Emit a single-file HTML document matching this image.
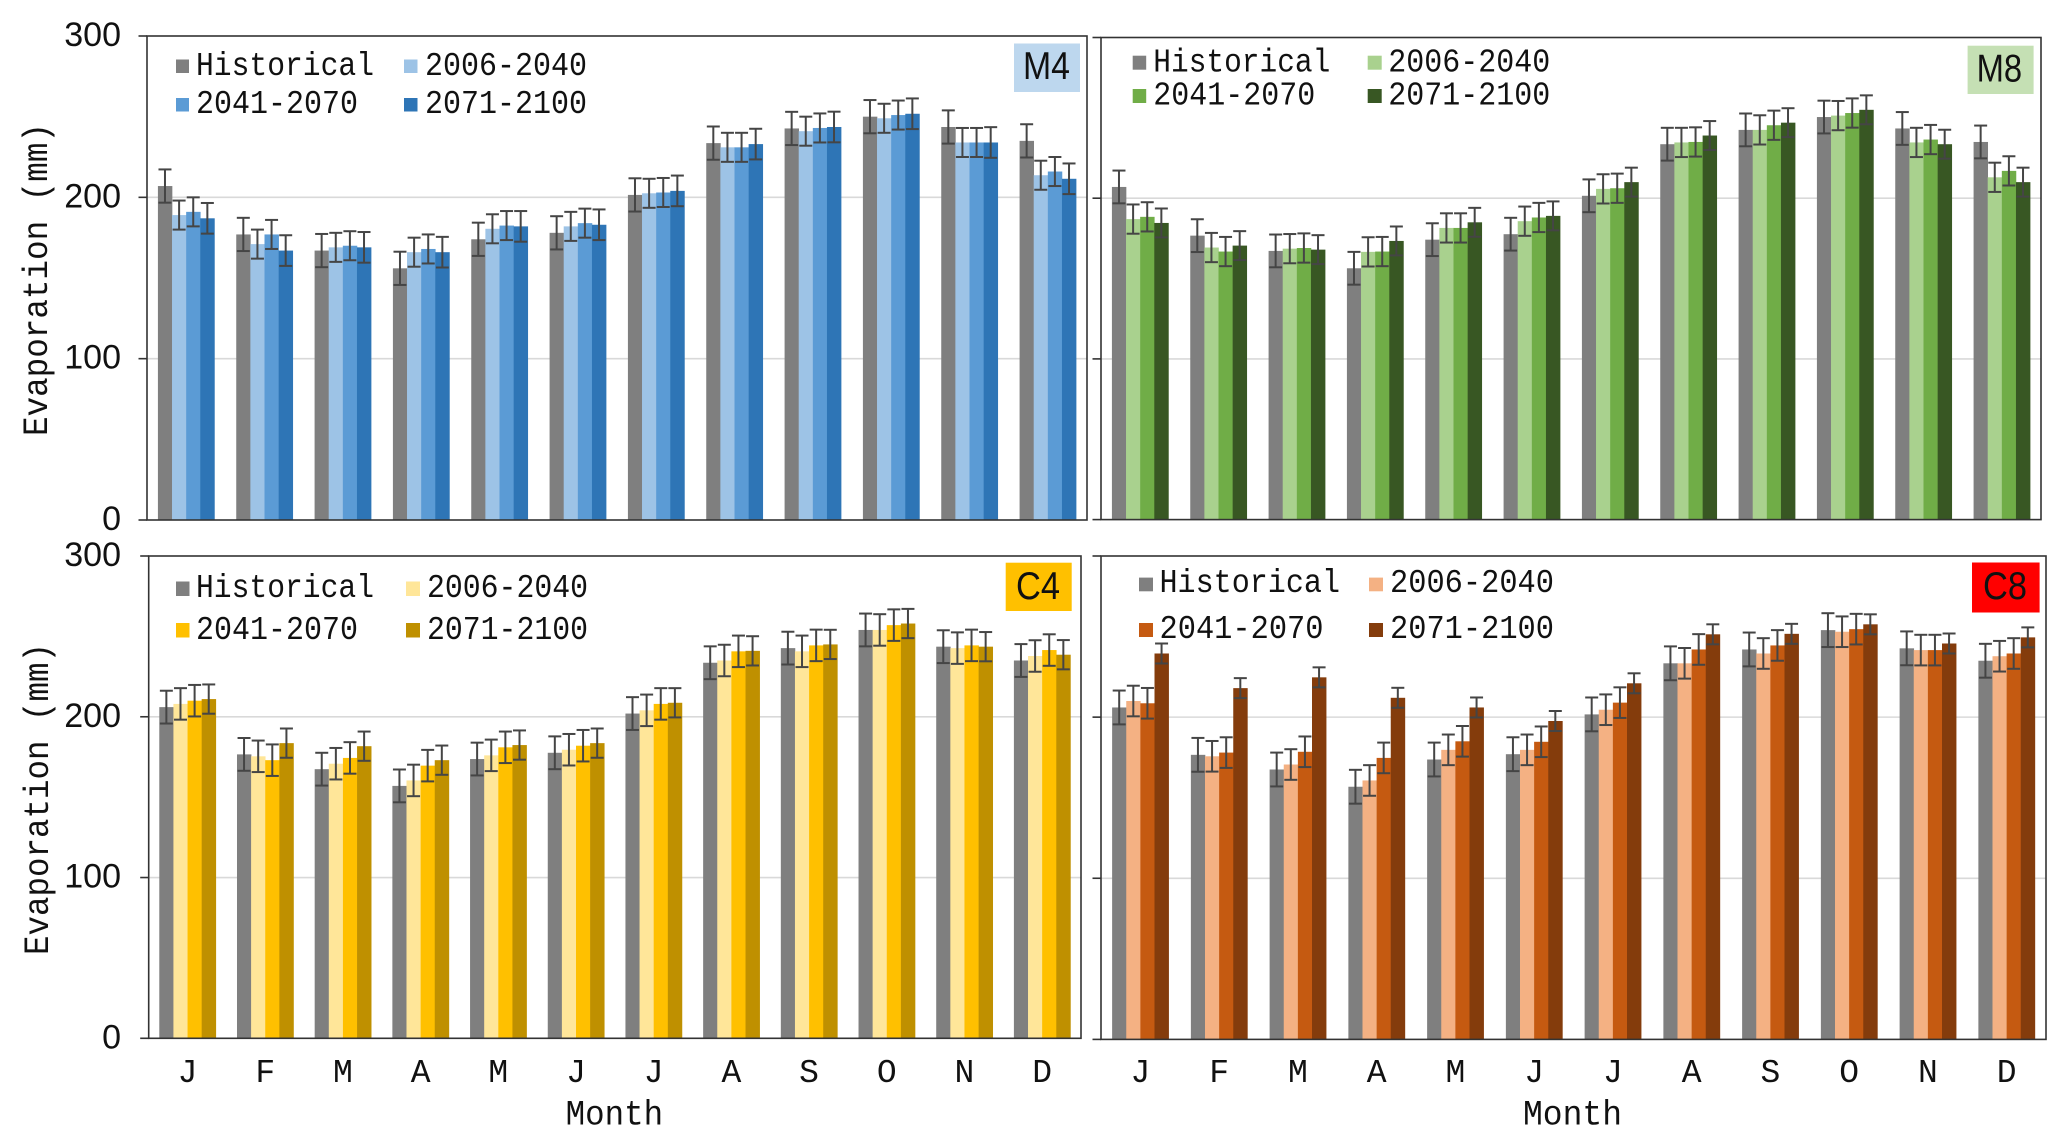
<!DOCTYPE html>
<html lang="en">
<head>
<meta charset="utf-8">
<title>Monthly evaporation by period and scenario</title>
<style>
  html, body { margin: 0; padding: 0; background: #ffffff; }
  body { width: 2067px; height: 1148px; overflow: hidden; }
  svg { display: block; }
  .mono { font-family: "Liberation Mono", monospace; fill: #111111; }
  .sans { font-family: "Liberation Sans", sans-serif; fill: #111111; }
</style>
</head>
<body>
<svg id="figure" xmlns="http://www.w3.org/2000/svg" width="2067" height="1148" viewBox="0 0 2067 1148">
  <rect x="0" y="0" width="2067" height="1148" fill="#ffffff"/>
  <g id="chart-layer"></g>

  <!-- M4 panel annotations -->
  <g>
    <text class="mono" transform="translate(47 279.5) rotate(-90)" text-anchor="middle" font-size="35" textLength="313" lengthAdjust="spacingAndGlyphs">Evaporation (mm)</text>
    <rect x="1014" y="43.5" width="66" height="48.5" fill="#bdd7ee"/>
    <text class="sans" x="1023" y="79" font-size="39" textLength="47" lengthAdjust="spacingAndGlyphs">M4</text>
    <g>
      <rect x="176" y="59.5" width="13" height="13.5" fill="#7f7f7f"/>
      <text class="mono" x="196" y="75" font-size="33" textLength="178" lengthAdjust="spacingAndGlyphs">Historical</text>
      <rect x="404" y="59.5" width="13.5" height="13.5" fill="#9dc3e6"/>
      <text class="mono" x="425" y="75" font-size="33" textLength="162" lengthAdjust="spacingAndGlyphs">2006-2040</text>
      <rect x="176" y="98" width="13" height="13.5" fill="#5b9bd5"/>
      <text class="mono" x="196" y="113" font-size="33" textLength="162" lengthAdjust="spacingAndGlyphs">2041-2070</text>
      <rect x="404" y="98" width="13.5" height="13.5" fill="#2e75b6"/>
      <text class="mono" x="425" y="113" font-size="33" textLength="162" lengthAdjust="spacingAndGlyphs">2071-2100</text>
    </g>
  </g>

  <!-- M8 panel annotations -->
  <g>
    <rect x="1967.6" y="45.7" width="66" height="48.3" fill="#c5e0b4"/>
    <text class="sans" x="1976.6" y="81.4" font-size="39" textLength="45.5" lengthAdjust="spacingAndGlyphs">M8</text>
    <g>
      <rect x="1132.7" y="55.7" width="13.5" height="14" fill="#7f7f7f"/>
      <text class="mono" x="1153.3" y="71.3" font-size="33" textLength="177" lengthAdjust="spacingAndGlyphs">Historical</text>
      <rect x="1367.7" y="55.7" width="14" height="14" fill="#a9d18e"/>
      <text class="mono" x="1388.3" y="71.3" font-size="33" textLength="162" lengthAdjust="spacingAndGlyphs">2006-2040</text>
      <rect x="1132.7" y="89" width="13.5" height="14" fill="#70ad47"/>
      <text class="mono" x="1153.3" y="104.7" font-size="33" textLength="162" lengthAdjust="spacingAndGlyphs">2041-2070</text>
      <rect x="1367.7" y="89" width="14" height="14" fill="#385723"/>
      <text class="mono" x="1388.3" y="104.7" font-size="33" textLength="162" lengthAdjust="spacingAndGlyphs">2071-2100</text>
    </g>
  </g>

  <!-- C4 panel annotations -->
  <g>
    <text class="mono" transform="translate(47.8 799) rotate(-90)" text-anchor="middle" font-size="35" textLength="312" lengthAdjust="spacingAndGlyphs">Evaporation (mm)</text>
    <text class="mono" x="565.6" y="1124.7" font-size="35" textLength="97.5" lengthAdjust="spacingAndGlyphs">Month</text>
    <rect x="1005.7" y="562.7" width="66" height="48.3" fill="#ffc000"/>
    <text class="sans" x="1016" y="599" font-size="39" textLength="44" lengthAdjust="spacingAndGlyphs">C4</text>
    <g>
      <rect x="176" y="581.5" width="13.5" height="14.5" fill="#7f7f7f"/>
      <text class="mono" x="196" y="597" font-size="33" textLength="178" lengthAdjust="spacingAndGlyphs">Historical</text>
      <rect x="406" y="581.5" width="14" height="14.5" fill="#ffe699"/>
      <text class="mono" x="427" y="597" font-size="33" textLength="161" lengthAdjust="spacingAndGlyphs">2006-2040</text>
      <rect x="176" y="623" width="13.5" height="14.5" fill="#ffc000"/>
      <text class="mono" x="196" y="639" font-size="33" textLength="162" lengthAdjust="spacingAndGlyphs">2041-2070</text>
      <rect x="406" y="623" width="14" height="14.5" fill="#bf9000"/>
      <text class="mono" x="427" y="639" font-size="33" textLength="161" lengthAdjust="spacingAndGlyphs">2071-2100</text>
    </g>
  </g>

  <!-- C8 panel annotations -->
  <g>
    <text class="mono" x="1523" y="1124.7" font-size="35" textLength="99" lengthAdjust="spacingAndGlyphs">Month</text>
    <rect x="1972" y="562.5" width="67.6" height="50" fill="#ff0000"/>
    <text class="sans" x="1983" y="599" font-size="39" textLength="44" lengthAdjust="spacingAndGlyphs">C8</text>
    <g>
      <rect x="1139" y="577.6" width="14" height="13.7" fill="#7f7f7f"/>
      <text class="mono" x="1159.5" y="592" font-size="33" textLength="180.5" lengthAdjust="spacingAndGlyphs">Historical</text>
      <rect x="1369" y="577.6" width="14" height="13.7" fill="#f4b183"/>
      <text class="mono" x="1390" y="592" font-size="33" textLength="164" lengthAdjust="spacingAndGlyphs">2006-2040</text>
      <rect x="1139" y="623" width="14" height="14" fill="#c55a11"/>
      <text class="mono" x="1159.5" y="638" font-size="33" textLength="164" lengthAdjust="spacingAndGlyphs">2041-2070</text>
      <rect x="1369" y="623" width="14" height="14" fill="#843c0c"/>
      <text class="mono" x="1390" y="638" font-size="33" textLength="164" lengthAdjust="spacingAndGlyphs">2071-2100</text>
    </g>
  </g>
</svg>

<script>
// ---- Shared categories and tick labels ----
const months = ['J', 'F', 'M', 'A', 'M', 'J', 'J', 'A', 'S', 'O', 'N', 'D'];
const yTickValues = [0, 100, 200, 300];
const gridValues = [100, 200];
const seriesKeys = ['historical', '2006-2040', '2041-2070', '2071-2100'];

// ---- M4 (mm) ----
const m4Historical = [207, 177, 167, 156, 174, 178, 201.5, 233.6, 242.7, 250, 243.6, 235];
const m4Near = [189, 171, 169, 166, 180.5, 182, 202.5, 231, 241, 249, 234, 213.7];
const m4Mid = [191, 177, 170, 168, 182.5, 184, 203, 231, 243, 251, 234, 216];
const m4Far = [187, 167, 169, 166, 182, 183, 204, 233, 243.6, 251.8, 234, 211.5];
const m4Errors = [10.3, 9, 9, 9.5];

// ---- M8 (mm) ----
const m8Historical = [207, 176.7, 167.2, 156.4, 174.2, 177.6, 201.5, 233.6, 242.5, 250.5, 243.4, 235];
const m8Near = [187, 169.3, 168.6, 166.6, 181.5, 185.7, 205.8, 234.7, 242.5, 251.4, 234.7, 213];
const m8Mid = [188.4, 166.8, 169, 166.8, 181.5, 188, 206.2, 235, 245.4, 253, 236.5, 217];
const m8Far = [184.6, 170.5, 168, 173.4, 185, 189, 210, 239, 247, 255, 233.6, 210];
const m8Errors = [10.2, 9.1, 9.1, 9];

// ---- C4 (mm) ----
const c4Historical = [206, 176.6, 167.4, 157, 173.7, 177.6, 202, 233.6, 242.7, 254, 243.6, 235];
const c4Near = [208, 175.4, 170.8, 160.4, 176, 179.5, 204, 235, 240.7, 254, 242.7, 237.8];
const c4Mid = [210, 173, 174.4, 169.6, 181, 182, 208, 240.7, 244.4, 257, 244.4, 241.5];
const c4Far = [211, 183.6, 181.7, 173, 182.4, 183.6, 208.7, 241, 245, 258, 243.6, 238.6];
const c4Errors = [10.2, 9.8, 9.8, 9.1];

// ---- C8 (mm) ----
const c8Historical = [206, 176.6, 167.5, 156.8, 173.7, 177, 201.7, 233.4, 242, 254, 242.7, 235];
const c8Near = [210, 175.7, 170.6, 160.7, 179.7, 179.7, 204.6, 233.4, 239.5, 253, 241.6, 237.8];
const c8Mid = [208.6, 178, 178.5, 174.7, 185, 184.7, 209, 242, 244.5, 254.6, 241.6, 239.5];
const c8Far = [239.5, 218, 224.7, 212, 206, 197.6, 221, 251.4, 251.7, 257.6, 245.7, 249.5];
const c8Errors = [10.5, 9.5, 9.5, 6.2];

// ---- Panel layout and style ----
const SVG_NS = 'http://www.w3.org/2000/svg';
const Y_MAX = 300;
const GROUP_WIDTH = 56.5;
const INK = '#333333';
const panels = [
  { key: 'm4', left: 147, right: 1087, top: 36, bottom: 520, yLabels: true, xLabels: false,
    series: [m4Historical, m4Near, m4Mid, m4Far], errors: m4Errors,
    colors: ['#7f7f7f', '#9dc3e6', '#5b9bd5', '#2e75b6'] },
  { key: 'm8', left: 1101, right: 2041, top: 37.5, bottom: 519.6, yLabels: false, xLabels: false,
    series: [m8Historical, m8Near, m8Mid, m8Far], errors: m8Errors,
    colors: ['#7f7f7f', '#a9d18e', '#70ad47', '#385723'] },
  { key: 'c4', left: 148.7, right: 1081, top: 556, bottom: 1038.3, yLabels: true, xLabels: true,
    series: [c4Historical, c4Near, c4Mid, c4Far], errors: c4Errors,
    colors: ['#7f7f7f', '#ffe699', '#ffc000', '#bf9000'] },
  { key: 'c8', left: 1101, right: 2046, top: 556, bottom: 1039.4, yLabels: false, xLabels: true,
    series: [c8Historical, c8Near, c8Mid, c8Far], errors: c8Errors,
    colors: ['#7f7f7f', '#f4b183', '#c55a11', '#843c0c'] }
];

function svgEl(tag, parent) {
  const el = document.createElementNS(SVG_NS, tag);
  parent.appendChild(el);
  return el;
}

function drawLine(parent, x1, y1, x2, y2, color, width) {
  const line = svgEl('line', parent);
  line.setAttribute('x1', x1);
  line.setAttribute('y1', y1);
  line.setAttribute('x2', x2);
  line.setAttribute('y2', y2);
  line.setAttribute('stroke', color);
  line.setAttribute('stroke-width', width);
  return line;
}

function drawPanel(root, p) {
  const yScale = function (v) { return p.bottom - (v / Y_MAX) * (p.bottom - p.top); };
  const step = (p.right - p.left) / months.length;
  const barWidth = GROUP_WIDTH / seriesKeys.length;
  const xGroup = function (i) { return p.left + step * i + (step - GROUP_WIDTH) / 2; };

  const panel = svgEl('g', root);
  
  

  // Gridlines
  const grid = svgEl('g', panel);
  
  
  gridValues.forEach(function (v) {
    const g = drawLine(grid, p.left, yScale(v), p.right, yScale(v), '#d9d9d9', 1.6);
    
    
  });

  // Bars
  const bars = svgEl('g', panel);
  
  
  p.series.forEach(function (values, s) {
    values.forEach(function (v, i) {
      const r = svgEl('rect', bars);
      
      
      r.setAttribute('x', xGroup(i) + s * barWidth);
      r.setAttribute('y', yScale(v));
      r.setAttribute('width', barWidth + 0.3);
      r.setAttribute('height', yScale(0) - yScale(v));
      r.setAttribute('fill', p.colors[s]);
    });
  });

  // Error bars
  const errs = svgEl('g', panel);
  
  
  p.series.forEach(function (values, s) {
    values.forEach(function (v, i) {
      const cx = xGroup(i) + (s + 0.5) * barWidth;
      const half = p.errors[s];
      const e = svgEl('g', errs);
      
      
      drawLine(e, cx, yScale(v + half), cx, yScale(v - half), '#454545', 2);
      drawLine(e, cx - 6.5, yScale(v + half), cx + 6.5, yScale(v + half), '#454545', 2);
      drawLine(e, cx - 6.5, yScale(v - half), cx + 6.5, yScale(v - half), '#454545', 2);
    });
  });

  // Frame
  const frame = svgEl('rect', panel);
  
  
  frame.setAttribute('x', p.left);
  frame.setAttribute('y', p.top);
  frame.setAttribute('width', p.right - p.left);
  frame.setAttribute('height', p.bottom - p.top);
  frame.setAttribute('fill', 'none');
  frame.setAttribute('stroke', INK);
  frame.setAttribute('stroke-width', 1.6);

  // Y ticks and labels
  const yAxis = svgEl('g', panel);
  
  
  yTickValues.forEach(function (v) {
    const t = drawLine(yAxis, p.left - 8.5, yScale(v), p.left, yScale(v), INK, 1.6);
    
    
    if (p.yLabels) {
      const lab = svgEl('text', yAxis);
      
      
      lab.setAttribute('class', 'sans');
      lab.setAttribute('x', 121);
      lab.setAttribute('y', yScale(v) + 10);
      lab.setAttribute('text-anchor', 'end');
      lab.setAttribute('font-size', 34);
      lab.textContent = String(v);
    }
  });

  // X tick labels
  if (p.xLabels) {
    const xAxis = svgEl('g', panel);
    
    
    months.forEach(function (m, i) {
      const lab = svgEl('text', xAxis);
      
      
      lab.setAttribute('class', 'mono');
      lab.setAttribute('x', xGroup(i) + GROUP_WIDTH / 2);
      lab.setAttribute('y', 1082);
      lab.setAttribute('text-anchor', 'middle');
      lab.setAttribute('font-size', 33);
      lab.textContent = m;
    });
  }
}

const chartLayer = document.getElementById('chart-layer');
panels.forEach(function (p) { drawPanel(chartLayer, p); });
</script>
</body>
</html>
